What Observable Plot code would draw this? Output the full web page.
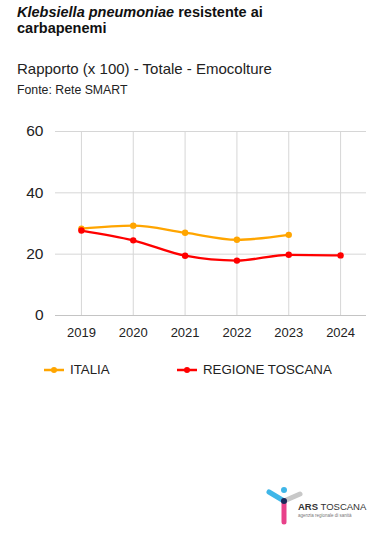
<!DOCTYPE html>
<html>
<head>
<meta charset="utf-8">
<script src="https://cdn.jsdelivr.net/npm/d3@7"></script>
<script src="https://cdn.jsdelivr.net/npm/@observablehq/plot@0.6"></script>
<style>
  body { margin: 0; width: 382px; height: 547px; background: #fff; font-family: Arial, "Liberation Sans", sans-serif; position: relative; overflow: hidden; }
  .title { position: absolute; left: 17px; top: 4px; width: 285px; font-size: 14.5px; font-weight: bold; line-height: 16px; color: #111; }
  .sub { position: absolute; left: 17px; top: 60px; font-size: 15px; color: #222; }
  .src { position: absolute; left: 17px; top: 83px; font-size: 12.3px; color: #222; }
  #chart { position: absolute; left: 0; top: 110px; }
  .legend { position: absolute; top: 362px; left: 0; font-size: 13.3px; color: #222; }
  .item { position: absolute; white-space: nowrap; }
  .logo { position: absolute; left: 262px; top: 486px; }
</style>
</head>
<body>
<div class="title"><i>Klebsiella pneumoniae</i> resistente ai carbapenemi</div>
<div class="sub">Rapporto (x 100) - Totale - Emocolture</div>
<div class="src">Fonte: Rete SMART</div>
<div id="chart"></div>
<div class="legend" id="legend"></div>
<svg class="logo" width="110" height="45" viewBox="0 0 110 45">
  <line x1="7" y1="6" x2="22" y2="15" stroke="#3fb6e8" stroke-width="5" stroke-linecap="round"/>
  <line x1="22" y1="15" x2="38" y2="8" stroke="#c8c8c8" stroke-width="5" stroke-linecap="round"/>
  <line x1="22" y1="15" x2="22" y2="36" stroke="#e8418a" stroke-width="5" stroke-linecap="round"/>
  <circle cx="22" cy="4" r="3" fill="#3fb6e8"/>
  <circle cx="22" cy="15" r="3" fill="#1a2a5a"/>
  <text x="36" y="24" font-size="9.5" font-family="Arial" fill="#333"><tspan font-weight="bold">ARS</tspan> TOSCANA</text>
  <text x="36" y="31" font-size="4.5" font-family="Arial" fill="#777">agenzia regionale di sanità</text>
</svg>
<script>
const years = [2019, 2020, 2021, 2022, 2023, 2024];
const italia = [28.3, 29.3, 27.0, 24.7, 26.3, null];
const toscana = [27.7, 24.5, 19.5, 17.9, 19.8, 19.6];
const seriesNames = ["ITALIA", "REGIONE TOSCANA"];
const seriesColors = ["#FFA500", "#FF0000"];
const yTicks = [0, 20, 40, 60];

const data = [];
years.forEach((y, i) => {
  if (italia[i] != null) data.push({year: y, value: italia[i], series: seriesNames[0]});
  if (toscana[i] != null) data.push({year: y, value: toscana[i], series: seriesNames[1]});
});

const chart = Plot.plot({
  width: 382,
  height: 240,
  marginLeft: 55,
  marginRight: 16,
  marginTop: 21,
  marginBottom: 35,
  style: {fontFamily: "Arial, 'Liberation Sans', sans-serif", color: "#222", background: "transparent"},
  x: {domain: [2018.5, 2024.5], ticks: years, tickFormat: d => String(d), tickSize: 0, tickPadding: 10, label: null},
  y: {domain: [0, 60], ticks: yTicks, tickSize: 0, tickPadding: 12, label: null},
  color: {domain: seriesNames, range: seriesColors},
  marks: [
    Plot.gridY(yTicks.filter(d => d > 0), {stroke: "#d6d6d6", strokeOpacity: 1, strokeWidth: 1}),
    Plot.gridX(years, {stroke: "#d6d6d6", strokeOpacity: 1, strokeWidth: 1}),
    Plot.ruleY([0], {stroke: "#c4c4c4", strokeWidth: 1.2}),
    Plot.axisY({ticks: yTicks, tickSize: 0, tickPadding: 12, fontSize: 15.5, label: null}),
    Plot.axisX({ticks: years, tickFormat: d => String(d), tickSize: 0, tickPadding: 12, fontSize: 13, label: null}),
    Plot.line(data, {x: "year", y: "value", z: "series", stroke: "series", strokeWidth: 2.3, curve: "monotone-x"}),
    Plot.dot(data, {x: "year", y: "value", fill: "series", r: 3.2})
  ]
});
document.getElementById("chart").appendChild(chart);

const legend = document.getElementById("legend");
const positions = [44, 177];
seriesNames.forEach((name, i) => {
  const div = document.createElement("div");
  div.className = "item";
  div.style.left = positions[i] + "px";
  div.innerHTML = `<svg width="20" height="10" style="vertical-align:-1px;margin-right:6px"><line x1="0" y1="5" x2="20" y2="5" stroke="${seriesColors[i]}" stroke-width="2.5"/><circle cx="10" cy="5" r="3" fill="${seriesColors[i]}"/></svg>${name}`;
  legend.appendChild(div);
});
</script>
</body>
</html>
